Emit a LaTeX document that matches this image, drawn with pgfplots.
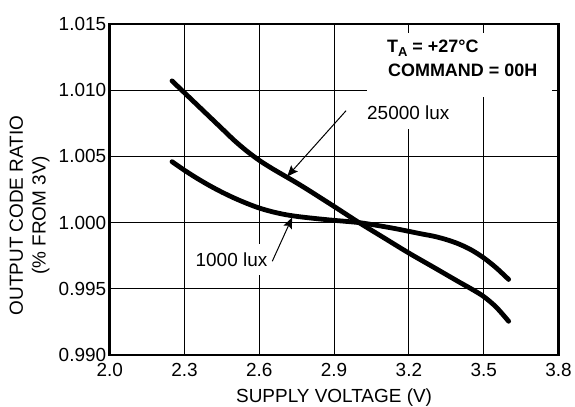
\documentclass[border=0pt]{standalone}
\usepackage{fontspec}
\setmainfont{Liberation Sans}
\usepackage{pgfplots}
\usepackage{pgfplotstable}
\pgfplotsset{compat=1.18}
\usetikzlibrary{arrows.meta}

% output code ratio vs supply voltage, 25000 lux
\pgfplotstableread{
v r
2.25 1.0107
2.30 1.0098
2.35 1.0089
2.40 1.0080
2.45 1.0071
2.50 1.0062
2.55 1.0054
2.60 1.0047
2.65 1.00410
2.70 1.00355
2.75 1.00300
2.80 1.00242
2.85 1.00182
2.90 1.00122
2.95 1.00061
3.00 1.0000
3.10 0.99885
3.20 0.99770
3.30 0.99662
3.40 0.99553
3.45 0.99500
3.50 0.99442
3.55 0.99362
3.60 0.99255
}\luxhigh

% 1000 lux
\pgfplotstableread{
v r
2.25 1.00460
2.30 1.00395
2.35 1.00335
2.40 1.00280
2.45 1.00230
2.50 1.00185
2.55 1.00145
2.60 1.00110
2.65 1.00083
2.70 1.00062
2.75 1.00047
2.80 1.00036
2.85 1.00026
2.90 1.00017
2.95 1.00009
3.00 1.00000
3.05 0.99986
3.10 0.99970
3.15 0.99953
3.20 0.99934
3.25 0.99915
3.30 0.99897
3.35 0.99872
3.40 0.99839
3.45 0.99794
3.50 0.99734
3.55 0.99659
3.60 0.99571
}\luxlow

\begin{document}
\begin{tikzpicture}[font=\fontsize{19}{23}\selectfont]
\begin{axis}[
    scale only axis,
    width=450pt, height=332pt,
    xmin=2.0, xmax=3.8,
    ymin=0.990, ymax=1.015,
    xtick={2.0,2.3,2.6,2.9,3.2,3.5,3.8},
    ytick={0.990,0.995,1.000,1.005,1.010,1.015},
    scaled y ticks=false,
    scaled x ticks=false,
    grid=major,
    grid style={black, line width=0.8pt},
    major tick length=0pt,
    axis line style={line width=2.5pt},
    /pgf/number format/assume math mode=true,
    xticklabel style={yshift=-5pt, /pgf/number format/.cd, fixed, fixed zerofill, precision=1},
    yticklabel style={/pgf/number format/.cd, fixed, fixed zerofill, precision=3},
    xlabel={SUPPLY VOLTAGE (V)},
    xlabel style={at={(rel axis cs:0.5,0)}, anchor=base, inner sep=0pt, yshift=-48pt},
    ylabel={OUTPUT CODE RATIO\\(\% FROM 3V)},
    ylabel style={align=center, at={(rel axis cs:0,0.4217)}, anchor=south,
        inner sep=0pt, yshift=60pt},
    clip=false,
]
\addplot[black, line width=4.8pt, line cap=round, smooth] table[x=v, y=r] {\luxhigh};
\addplot[black, line width=4.8pt, line cap=round, smooth] table[x=v, y=r] {\luxlow};

% condition box
\fill[white] (axis cs:3.032,1.01432) rectangle (axis cs:3.772,1.0095);
\node[anchor=base west, inner sep=0pt, font=\fontsize{18}{21.6}\selectfont\bfseries]
    at (axis cs:3.112,1.01282) {T\raisebox{-4pt}{\fontsize{13}{13}\selectfont A} = +27°C};
\node[anchor=base west, inner sep=0pt, font=\fontsize{18}{21.6}\selectfont\bfseries]
    at (axis cs:3.116,1.01101) {COMMAND = 00H};

% curve labels
\node[anchor=base west, fill=white, inner xsep=6pt, inner ysep=9pt]
    at (axis cs:3.008,1.00777) {25000 lux};
\draw[line width=1pt, -{Stealth[length=11pt, width=9pt, inset=2pt]}]
    (axis cs:2.948,1.00845) -- (axis cs:2.712,1.00348);
\node[anchor=base west, fill=white, inner xsep=6pt, inner ysep=9pt]
    at (axis cs:2.32,0.99670) {1000 lux};
\draw[line width=1pt, -{Stealth[length=11pt, width=9pt, inset=2pt]}]
    (axis cs:2.652,0.99708) -- (axis cs:2.732,1.00039);

\path (rel axis cs:-0.2444,-0.1566) rectangle (rel axis cs:1.0333,1.0723);
\end{axis}
\end{tikzpicture}
\end{document}
